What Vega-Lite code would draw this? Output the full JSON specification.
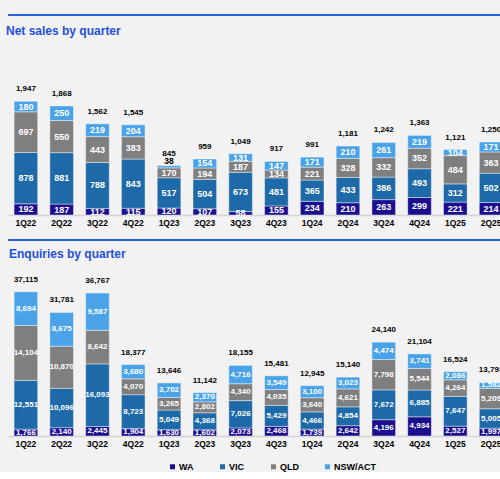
{
  "$schema": "https://vega.github.io/schema/vega-lite/v6.json",
  "background": "#f2f2f2",
  "padding": {"left": 6, "top": 14, "right": 0, "bottom": 0},
  "spacing": 12,
  "config": {
    "view": {"stroke": null},
    "font": "Liberation Sans",
    "axisX": {
      "title": null,
      "labelAngle": 0,
      "ticks": false,
      "domainColor": "#d4d4d4",
      "domainWidth": 1.5,
      "labelFont": "Liberation Sans",
      "labelFontSize": 8.5,
      "labelFontWeight": "bold",
      "labelColor": "#000000",
      "labelPadding": 3
    },
    "title": {
      "anchor": "start",
      "frame": "group",
      "font": "Liberation Sans",
      "fontSize": 12,
      "fontWeight": "bold",
      "color": "#1f50e0"
    }
  },
  "vconcat": [
    {
      "title": {"text": "Net sales by quarter", "dx": -2, "offset": -24},
      "width": 501,
      "height": 200,
      "data": {
        "values": [
          {"q": "1Q22", "WA": 192, "VIC": 878, "QLD": 697, "NSW/ACT": 180, "total": 1947},
          {"q": "2Q22", "WA": 187, "VIC": 881, "QLD": 550, "NSW/ACT": 250, "total": 1868},
          {"q": "3Q22", "WA": 112, "VIC": 788, "QLD": 443, "NSW/ACT": 219, "total": 1562},
          {"q": "4Q22", "WA": 115, "VIC": 843, "QLD": 383, "NSW/ACT": 204, "total": 1545},
          {"q": "1Q23", "WA": 120, "VIC": 517, "QLD": 170, "NSW/ACT": 38, "total": 845},
          {"q": "2Q23", "WA": 107, "VIC": 504, "QLD": 194, "NSW/ACT": 154, "total": 959},
          {"q": "3Q23", "WA": 58, "VIC": 673, "QLD": 187, "NSW/ACT": 131, "total": 1049},
          {"q": "4Q23", "WA": 155, "VIC": 481, "QLD": 134, "NSW/ACT": 147, "total": 917},
          {"q": "1Q24", "WA": 234, "VIC": 365, "QLD": 221, "NSW/ACT": 171, "total": 991},
          {"q": "2Q24", "WA": 210, "VIC": 433, "QLD": 328, "NSW/ACT": 210, "total": 1181},
          {"q": "3Q24", "WA": 263, "VIC": 386, "QLD": 332, "NSW/ACT": 261, "total": 1242},
          {"q": "4Q24", "WA": 299, "VIC": 493, "QLD": 352, "NSW/ACT": 219, "total": 1363},
          {"q": "1Q25", "WA": 221, "VIC": 312, "QLD": 484, "NSW/ACT": 104, "total": 1121},
          {"q": "2Q25", "WA": 214, "VIC": 502, "QLD": 363, "NSW/ACT": 171, "total": 1250}
        ]
      },
      "transform": [
        {"fold": ["WA", "VIC", "QLD", "NSW/ACT"], "as": ["region", "v"]},
        {"stack": "v", "groupby": ["q"], "sort": [{"field": "region", "order": "descending"}], "as": ["v0", "v1"]},
        {"calculate": "(datum.v0 + datum.v1) / 2", "as": "mid"}
      ],
      "layer": [
        {
          "mark": {"type": "bar", "stroke": "#ffffff", "strokeWidth": 0.6, "strokeOpacity": 0.7},
          "encoding": {
            "x": {"field": "q", "type": "ordinal", "sort": null, "scale": {"paddingInner": 0.34, "paddingOuter": 0.17}},
            "y": {"field": "v0", "type": "quantitative", "scale": {"domain": [0, 3425], "nice": false}, "axis": null},
            "y2": {"field": "v1"},
            "color": {
              "field": "region",
              "type": "nominal",
              "scale": {
                "domain": ["WA", "VIC", "QLD", "NSW/ACT"],
                "range": ["#1b0f8f", "#1e6aa8", "#7f7f7f", "#4aa3e8"]
              },
              "legend": {
                "title": null,
                "orient": "none",
                "direction": "horizontal",
                "legendX": 160,
                "legendY": 447,
                "symbolType": "square",
                "symbolSize": 25,
                "symbolStrokeWidth": 0,
                "labelFont": "Liberation Sans",
                "labelFontSize": 9,
                "labelFontWeight": "bold",
                "labelColor": "#000000",
                "labelOffset": 2,
                "columnPadding": 24
              }
            }
          }
        },
        {
          "transform": [{"filter": "datum.v >= 50"}],
          "mark": {"type": "text", "color": "#ffffff", "fontSize": 9, "fontWeight": "bold", "baseline": "middle"},
          "encoding": {
            "x": {"field": "q", "type": "ordinal", "sort": null},
            "y": {"field": "mid", "type": "quantitative"},
            "text": {"field": "v", "type": "quantitative", "format": ","}
          }
        },
        {
          "transform": [{"filter": "datum.v < 50"}],
          "mark": {"type": "text", "color": "#000000", "fontSize": 8.5, "fontWeight": "bold", "baseline": "middle", "dy": -5},
          "encoding": {
            "x": {"field": "q", "type": "ordinal", "sort": null},
            "y": {"field": "v1", "type": "quantitative"},
            "text": {"field": "v", "type": "quantitative", "format": ","}
          }
        },
        {
          "transform": [{"filter": "datum.region == 'NSW/ACT'"}],
          "mark": {"type": "text", "color": "#000000", "fontSize": 8, "fontWeight": "bold", "baseline": "middle", "dy": -12},
          "encoding": {
            "x": {"field": "q", "type": "ordinal", "sort": null},
            "y": {"field": "total", "type": "quantitative"},
            "text": {"field": "total", "type": "quantitative", "format": ","}
          }
        },
        {
          "mark": {"type": "rule", "color": "#2a5fd6", "strokeWidth": 1.5},
          "encoding": {"y": {"datum": 3425}}
        }
      ]
    },
    {
      "title": {"text": "Enquiries by quarter", "dx": 1, "offset": -22},
      "width": 501,
      "height": 196,
      "data": {
        "values": [
          {"q": "1Q22", "WA": 1766, "VIC": 12551, "QLD": 14104, "NSW/ACT": 8694, "total": 37115},
          {"q": "2Q22", "WA": 2140, "VIC": 10096, "QLD": 10870, "NSW/ACT": 8675, "total": 31781},
          {"q": "3Q22", "WA": 2445, "VIC": 16093, "QLD": 8642, "NSW/ACT": 9587, "total": 36767},
          {"q": "4Q22", "WA": 1904, "VIC": 8723, "QLD": 4070, "NSW/ACT": 3680, "total": 18377},
          {"q": "1Q23", "WA": 1630, "VIC": 5049, "QLD": 3265, "NSW/ACT": 3702, "total": 13646},
          {"q": "2Q23", "WA": 1602, "VIC": 4368, "QLD": 2802, "NSW/ACT": 2370, "total": 11142},
          {"q": "3Q23", "WA": 2073, "VIC": 7026, "QLD": 4340, "NSW/ACT": 4716, "total": 18155},
          {"q": "4Q23", "WA": 2468, "VIC": 5429, "QLD": 4035, "NSW/ACT": 3549, "total": 15481},
          {"q": "1Q24", "WA": 1739, "VIC": 4466, "QLD": 3640, "NSW/ACT": 3100, "total": 12945},
          {"q": "2Q24", "WA": 2642, "VIC": 4854, "QLD": 4621, "NSW/ACT": 3023, "total": 15140},
          {"q": "3Q24", "WA": 4196, "VIC": 7672, "QLD": 7798, "NSW/ACT": 4474, "total": 24140},
          {"q": "4Q24", "WA": 4934, "VIC": 6885, "QLD": 5544, "NSW/ACT": 3741, "total": 21104},
          {"q": "1Q25", "WA": 2527, "VIC": 7647, "QLD": 4264, "NSW/ACT": 2086, "total": 16524},
          {"q": "2Q25", "WA": 1997, "VIC": 5005, "QLD": 5209, "NSW/ACT": 1582, "total": 13793}
        ]
      },
      "transform": [
        {"fold": ["WA", "VIC", "QLD", "NSW/ACT"], "as": ["region", "v"]},
        {"stack": "v", "groupby": ["q"], "sort": [{"field": "region", "order": "descending"}], "as": ["v0", "v1"]},
        {"calculate": "(datum.v0 + datum.v1) / 2", "as": "mid"}
      ],
      "layer": [
        {
          "mark": {"type": "bar", "stroke": "#ffffff", "strokeWidth": 0.6, "strokeOpacity": 0.7},
          "encoding": {
            "x": {"field": "q", "type": "ordinal", "sort": null, "scale": {"paddingInner": 0.34, "paddingOuter": 0.17}},
            "y": {"field": "v0", "type": "quantitative", "scale": {"domain": [0, 50400], "nice": false}, "axis": null},
            "y2": {"field": "v1"},
            "color": {
              "field": "region",
              "type": "nominal",
              "scale": {
                "domain": ["WA", "VIC", "QLD", "NSW/ACT"],
                "range": ["#1b0f8f", "#1e6aa8", "#7f7f7f", "#4aa3e8"]
              }
            }
          }
        },
        {
          "mark": {"type": "text", "color": "#ffffff", "fontSize": 8, "fontWeight": "bold", "baseline": "middle"},
          "encoding": {
            "x": {"field": "q", "type": "ordinal", "sort": null},
            "y": {"field": "mid", "type": "quantitative"},
            "text": {"field": "v", "type": "quantitative", "format": ","}
          }
        },
        {
          "transform": [{"filter": "datum.region == 'NSW/ACT'"}],
          "mark": {"type": "text", "color": "#000000", "fontSize": 8, "fontWeight": "bold", "baseline": "middle", "dy": -12},
          "encoding": {
            "x": {"field": "q", "type": "ordinal", "sort": null},
            "y": {"field": "total", "type": "quantitative"},
            "text": {"field": "total", "type": "quantitative", "format": ","}
          }
        },
        {
          "mark": {"type": "rule", "color": "#2a5fd6", "strokeWidth": 1.5},
          "encoding": {"y": {"datum": 50400}}
        }
      ]
    }
  ]
}
